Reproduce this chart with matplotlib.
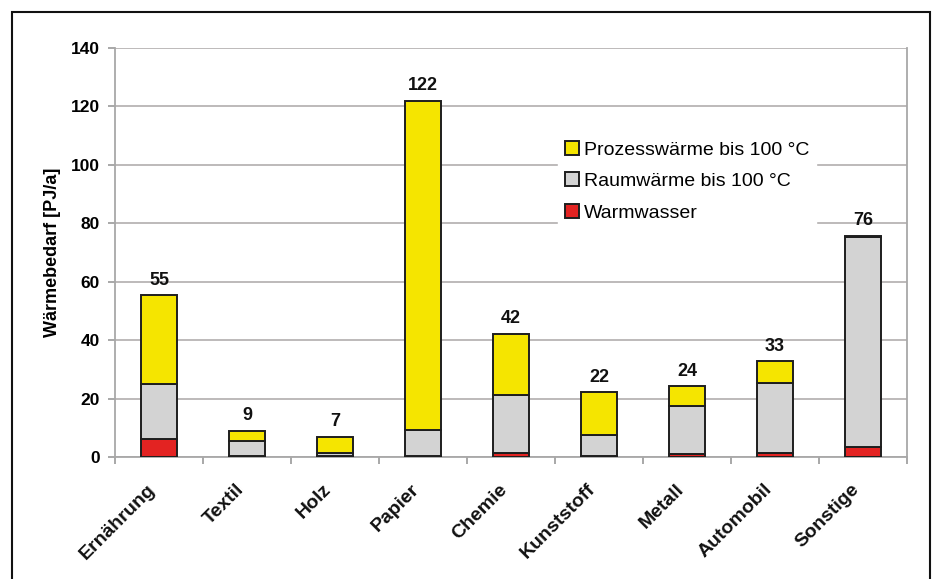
import matplotlib
matplotlib.use("Agg")
import matplotlib.pyplot as plt
from matplotlib.patches import Rectangle
import matplotlib.transforms as mtransforms
import numpy as np

plt.rcParams['font.family'] = ['Liberation Sans', 'DejaVu Sans']

categories = ["Ernährung", "Textil", "Holz", "Papier", "Chemie", "Kunststoff", "Metall", "Automobil", "Sonstige"]
warmwasser = [6.2, 0.4, 0.3, 0.5, 1.4, 0.3, 1.0, 1.5, 3.5]
raumwaerme = [18.8, 5.0, 1.1, 8.8, 19.7, 7.1, 16.5, 23.9, 71.8]
prozess = [30.3, 3.6, 5.6, 112.7, 21.1, 14.8, 6.8, 7.3, 0.5]
totals = [55, 9, 7, 122, 42, 22, 24, 33, 76]
yticks = [0, 20, 40, 60, 80, 100, 120, 140]

fig = plt.figure(figsize=(9.35, 5.79), dpi=100)
ax = fig.add_axes([115/935, 1-457/579, (907-115)/935, (457-48)/579])

x = np.arange(len(categories))
w = 0.4
ec = '#1e1e1e'
lw = 1.4
ax.bar(x, warmwasser, w, color='#e32322', edgecolor=ec, linewidth=lw, label='Warmwasser', zorder=3)
ax.bar(x, raumwaerme, w, bottom=warmwasser, color='#d3d3d3', edgecolor=ec, linewidth=lw, label='Raumwärme bis 100 °C', zorder=3)
b2 = np.array(warmwasser) + np.array(raumwaerme)
ax.bar(x, prozess, w, bottom=b2, color='#f5e500', edgecolor=ec, linewidth=lw, label='Prozesswärme bis 100 °C', zorder=3)

for xi, t, top in zip(x, totals, b2 + np.array(prozess)):
    ax.annotate(str(t), (xi, top), xytext=(0, 7.5), textcoords='offset points',
                ha='center', va='baseline', fontsize=13, fontweight='bold', color='#111111')

ax.set_xlim(-0.5, len(categories) - 0.5)
ax.set_ylim(0, 140)
ax.set_yticks(yticks)
ax.set_yticklabels([str(v) for v in yticks], fontsize=12.5, fontweight='bold')
ax.yaxis.grid(True, color='#b8b4b4', linewidth=1.3, zorder=0)
ax.set_axisbelow(True)
ax.set_xticks(np.arange(-0.5, len(categories), 1.0))
ax.set_xticklabels([])

base = mtransforms.blended_transform_factory(ax.transData, ax.transAxes)
offset = mtransforms.ScaledTranslation(-12/100, -24/100, fig.dpi_scale_trans)
for xi, cat in zip(x, categories):
    ax.text(xi, 0, cat, transform=base + offset, rotation=45, ha='right', va='top',
            rotation_mode='anchor', fontsize=14, fontweight='bold', color='#111111', clip_on=False)

ax.tick_params(axis='x', which='major', length=5, color='#999999', width=1.2)
ax.tick_params(axis='y', length=5, color='#999999', width=1.2, pad=6)
for s in ['left', 'right', 'top', 'bottom']:
    ax.spines[s].set_color('#a8a8a8')
    ax.spines[s].set_linewidth(1.3)
ax.spines['top'].set_visible(False)

ax.set_ylabel('Wärmebedarf [PJ/a]', fontsize=13, fontweight='bold', labelpad=7)

handles, labels = ax.get_legend_handles_labels()
leg = ax.legend(handles[::-1], labels[::-1], loc='upper left', bbox_to_anchor=(0.559, 0.79),
                frameon=True, fontsize=14, handlelength=0.75, handleheight=0.75, handletextpad=0.25,
                labelspacing=0.7, borderpad=0.35, borderaxespad=0)
leg.get_frame().set_edgecolor('white')
leg.get_frame().set_facecolor('white')
leg.get_frame().set_alpha(1)
leg.get_frame().set_boxstyle('square', pad=0)
leg.set_zorder(5)

fig.patches.append(Rectangle((12/935, -0.05), (930-12)/935, (579-12)/579 + 0.05, transform=fig.transFigure,
                             fill=False, edgecolor='#111111', linewidth=1.5))

fig.savefig('out.png', dpi=100)
